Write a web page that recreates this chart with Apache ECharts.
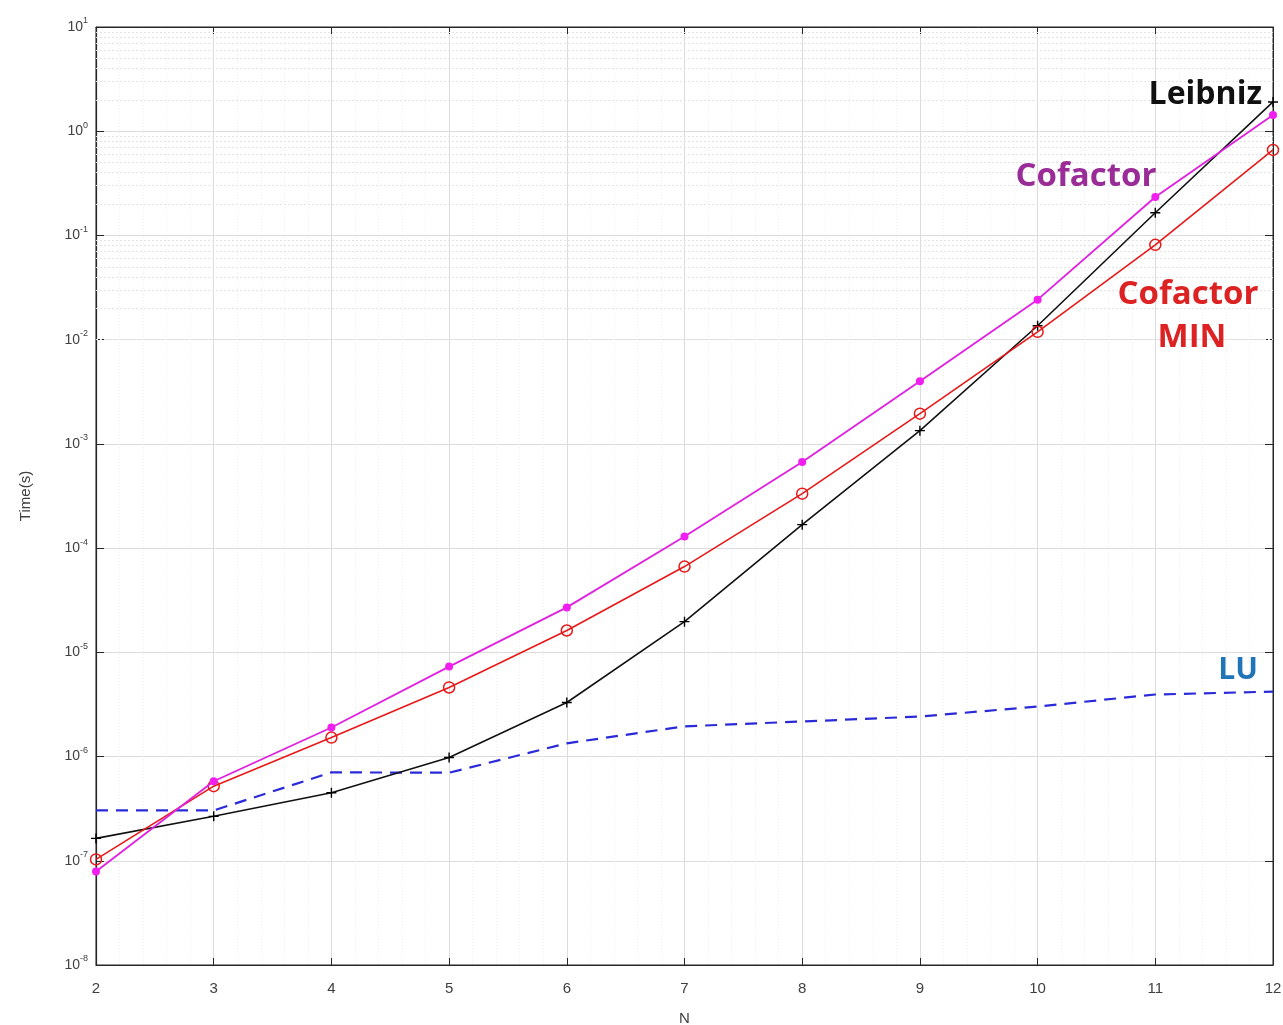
<!DOCTYPE html>
<html>
<head>
<meta charset="utf-8">
<script src="https://cdn.jsdelivr.net/npm/echarts@6/dist/echarts.min.js"></script>
<style>html,body{margin:0;padding:0;background:#fff;}#c{width:1283px;height:1025px;}</style>
</head>
<body>
<div id="c"></div>
<script>
var N = [2, 3, 4, 5, 6, 7, 8, 9, 10, 11, 12];
var leibniz = [1.64e-7, 2.67e-7, 4.5e-7, 9.8e-7, 3.3e-6, 1.97e-5, 1.68e-4, 1.34e-3, 0.0136, 0.165, 1.91];
var cofactor = [7.9e-8, 5.8e-7, 1.9e-6, 7.3e-6, 2.7e-5, 1.29e-4, 6.7e-4, 4.0e-3, 0.0242, 0.234, 1.43];
var cofactorMin = [1.03e-7, 5.2e-7, 1.52e-6, 4.6e-6, 1.62e-5, 6.65e-5, 3.33e-4, 1.95e-3, 0.0119, 0.0813, 0.662];
var lu = [3.04e-7, 3.04e-7, 7.05e-7, 7.0e-7, 1.34e-6, 1.95e-6, 2.17e-6, 2.42e-6, 3.02e-6, 3.94e-6, 4.2e-6];
var yExpMin = -8, yExpMax = 1;

function pairs(arr) { return N.map(function (n, i) { return [n, arr[i]]; }); }

var minorLines = [];
for (var e = yExpMin; e < yExpMax; e++) {
  for (var m = 2; m <= 9; m++) minorLines.push({ yAxis: m * Math.pow(10, e) });
}

var chart = echarts.init(document.getElementById('c'));
var axisColor = '#262626';
var labelFont = 'Liberation Sans';
var plusPath = 'path://M0,4.3L10,4.3L10,5.7L0,5.7ZM4.3,0L5.7,0L5.7,10L4.3,10Z';

chart.setOption({
  animation: false,
  backgroundColor: '#ffffff',
  grid: { left: 96, right: 10, top: 27, bottom: 60, containLabel: false, outerBoundsMode: 'none', show: true, borderColor: axisColor, borderWidth: 1, backgroundColor: 'transparent' },
  xAxis: [{
    type: 'value', min: 2, max: 12, interval: 1,
    name: 'N', nameLocation: 'middle', nameGap: 46,
    nameTextStyle: { color: '#404040', fontSize: 15, fontFamily: labelFont },
    axisLine: { show: true, lineStyle: { color: axisColor, width: 1.2 } },
    axisTick: { show: true, inside: true, length: 7, lineStyle: { color: axisColor } },
    axisLabel: { color: '#404040', fontSize: 15, fontFamily: labelFont, margin: 16 },
    splitLine: { show: true, lineStyle: { color: '#dcdcdc', width: 1 } },
    minorTick: { show: false, splitNumber: 5 },
    minorSplitLine: { show: true, lineStyle: { color: '#efefef', type: [1, 2] } }
  }, {
    type: 'value', min: 2, max: 12, interval: 1, position: 'top',
    axisLine: { show: true, lineStyle: { color: axisColor } },
    axisTick: { show: true, inside: true, length: 7, lineStyle: { color: axisColor } },
    axisLabel: { show: false }, splitLine: { show: false }
  }],
  yAxis: [{
    type: 'log', logBase: 10, min: 1e-8, max: 10,
    name: 'Time(s)', nameLocation: 'middle', nameGap: 63, nameRotate: 90,
    nameTextStyle: { color: '#404040', fontSize: 15, fontFamily: labelFont },
    axisLine: { show: true, lineStyle: { color: axisColor, width: 1.2 } },
    axisTick: { show: true, inside: true, length: 8, lineStyle: { color: axisColor } },
    axisLabel: {
      margin: 8, color: '#404040', fontFamily: labelFont,
      formatter: function (v) { return '{b|10}{s|' + Math.round(Math.log10(v)) + '}'; },
      rich: {
        b: { fontSize: 14, color: '#404040', fontFamily: labelFont },
        s: { fontSize: 9, color: '#404040', fontFamily: labelFont, padding: [0, 0, 12, 0] }
      }
    },
    splitLine: { show: true, lineStyle: { color: '#dcdcdc', width: 1 } }
  }, {
    type: 'log', logBase: 10, min: 1e-8, max: 10, position: 'right',
    axisLine: { show: true, lineStyle: { color: axisColor } },
    axisTick: { show: true, inside: true, length: 8, lineStyle: { color: axisColor } },
    axisLabel: { show: false }, splitLine: { show: false }
  }],
  series: [
    {
      name: 'minorGrid', type: 'line', data: [], silent: true, z: 1,
      markLine: {
        silent: true, symbol: 'none', label: { show: false }, z: 1,
        lineStyle: { color: '#e4e4e4', type: [2, 2], width: 1 },
        data: minorLines
      }
    },
    {
      name: 'LU', type: 'line', data: pairs(lu), showSymbol: false, z: 3,
      lineStyle: { color: '#2a2ad8', width: 2.2, type: [12, 8] }
    },
    {
      name: 'Leibniz', type: 'line', data: pairs(leibniz), z: 4,
      symbol: plusPath, symbolSize: 10,
      itemStyle: { color: '#000000' },
      lineStyle: { color: '#111111', width: 1.6 }
    },
    {
      name: 'Cofactor MIN', type: 'line', data: pairs(cofactorMin), z: 5,
      symbol: 'circle', symbolSize: 11,
      itemStyle: { color: 'rgba(255,255,255,0)', borderColor: '#e81818', borderWidth: 1.5 },
      lineStyle: { color: '#e81818', width: 1.6 }
    },
    {
      name: 'Cofactor', type: 'line', data: pairs(cofactor), z: 6,
      symbol: 'circle', symbolSize: 8,
      itemStyle: { color: '#f01ff0' },
      lineStyle: { color: '#e020e0', width: 1.8 }
    }
  ],
  graphic: [
    { type: 'text', z: 10, style: { text: 'Leibniz', x: 1262, y: 95, textAlign: 'right', textVerticalAlign: 'middle', fill: '#111111', font: 'bold 32px "Open Sans"' } },
    { type: 'text', z: 10, style: { text: 'Cofactor', x: 1086, y: 177, textAlign: 'center', textVerticalAlign: 'middle', fill: '#9a2c98', font: 'bold 33px "Open Sans"' } },
    { type: 'text', z: 10, style: { text: 'Cofactor', x: 1188, y: 295, textAlign: 'center', textVerticalAlign: 'middle', fill: '#dc2222', font: 'bold 33px "Open Sans"' } },
    { type: 'text', z: 10, style: { text: 'MIN', x: 1192, y: 338, textAlign: 'center', textVerticalAlign: 'middle', fill: '#dc2222', font: 'bold 33px "Open Sans"' } },
    { type: 'text', z: 10, style: { text: 'LU', x: 1238, y: 670, textAlign: 'center', textVerticalAlign: 'middle', fill: '#2075b8', font: 'bold 30px "Open Sans"' } }
  ]
});
</script>
</body>
</html>
